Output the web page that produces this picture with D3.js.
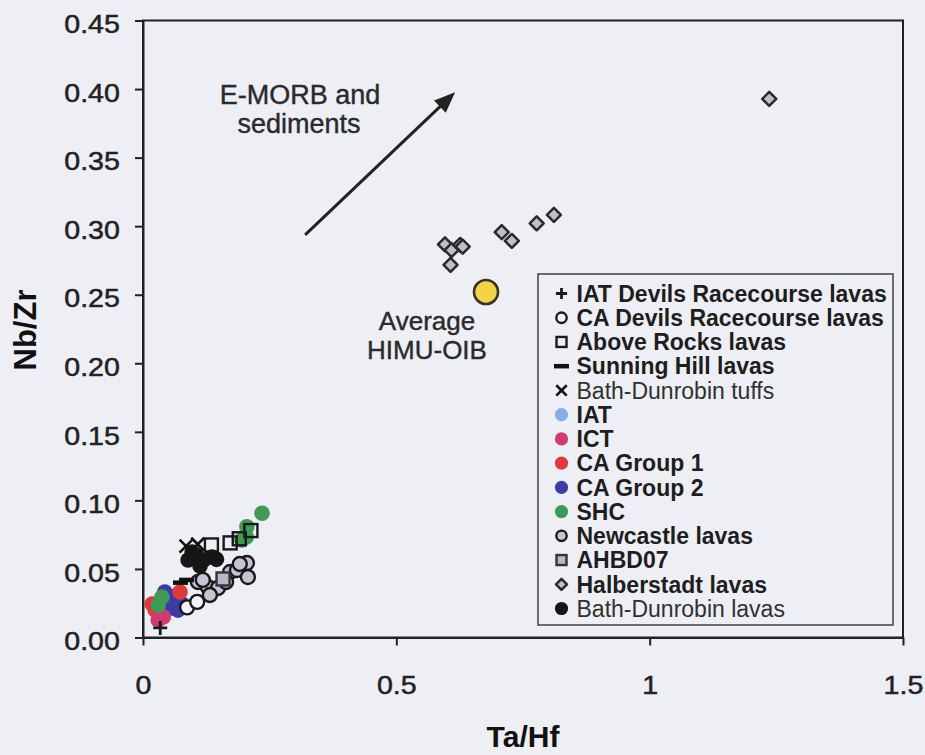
<!DOCTYPE html>
<html>
<head>
<meta charset="utf-8">
<script src="https://cdn.jsdelivr.net/npm/d3@7"></script>
<style>
  html, body { margin: 0; padding: 0; background: #eeeef5; }
  svg { display: block; font-family: "Liberation Sans", Arial, sans-serif; }
</style>
</head>
<body>
<svg id="chart" width="925" height="755"></svg>
<script>
// ---- axis ticks ----
const xTicks = [0, 0.5, 1, 1.5];
const yTicks = [0, 0.05, 0.10, 0.15, 0.20, 0.25, 0.30, 0.35, 0.40, 0.45];

// ---- series: [Ta/Hf, Nb/Zr] ----
const iatDevils   = [[0.034, 0.007]];
const caDevils    = [[0.087, 0.022], [0.107, 0.026]];
const aboveRocks  = [[0.135, 0.0675], [0.172, 0.069], [0.190, 0.072], [0.213, 0.078]];
const sunningHill = [[0.074, 0.040], [0.086, 0.042]];
const bdTuffs     = [[0.085, 0.0667], [0.108, 0.068]];
const iat         = [[0.050, 0.030], [0.060, 0.026]];
const ict         = [[0.030, 0.0128], [0.040, 0.015]];
const caGroup1    = [[0.024, 0.020], [0.073, 0.0332], [0.018, 0.0244]];
const caGroup2    = [[0.049, 0.0274], [0.065, 0.0303], [0.077, 0.0244], [0.057, 0.0215], [0.043, 0.0332], [0.069, 0.020]];
const shc         = [[0.030, 0.0237], [0.0375, 0.0295], [0.195, 0.0711], [0.204, 0.0733], [0.205, 0.0808], [0.235, 0.0906]];
const newcastle   = [[0.1085, 0.0405], [0.128, 0.0368], [0.148, 0.0361], [0.172, 0.0478], [0.1855, 0.0492],
                     [0.205, 0.0543], [0.207, 0.0441], [0.191, 0.0536], [0.132, 0.031], [0.118, 0.042], [0.164, 0.0405]];
const ahbd07      = [[0.158, 0.0427]];
const halberstadt = [[0.596, 0.2868], [0.609, 0.2826], [0.626, 0.2863], [0.631, 0.285], [0.607, 0.2717],
                     [0.708, 0.2956], [0.728, 0.2892], [0.777, 0.3021], [0.811, 0.3082], [1.236, 0.3928]];
const bdLavas     = [[0.089, 0.0565], [0.105, 0.0602], [0.120, 0.0565], [0.136, 0.0587], [0.1125, 0.0521],
                     [0.097, 0.0624], [0.145, 0.057]];

// reference composition and trend arrow
const himuOib    = [[0.677, 0.252]];
const emorbArrow = [[0.320, 0.2936], [0.616, 0.3977]];

// legend entries, in display order
const legendLabels = ["IAT Devils Racecourse lavas", "CA Devils Racecourse lavas", "Above Rocks lavas",
  "Sunning Hill lavas", "Bath-Dunrobin tuffs", "IAT", "ICT", "CA Group 1", "CA Group 2", "SHC",
  "Newcastle lavas", "AHBD07", "Halberstadt lavas", "Bath-Dunrobin lavas"];

const ink = "#222";
const styles = {
  "IAT Devils Racecourse lavas": {shape: "plus",    data: iatDevils,  fill: "none",    stroke: "#1a1a1a"},
  "CA Devils Racecourse lavas":  {shape: "circle",  data: caDevils,   fill: "#f4f4f8", stroke: "#1a1a1a"},
  "Above Rocks lavas":           {shape: "square",  data: aboveRocks, fill: "none",    stroke: "#1a1a1a"},
  "Sunning Hill lavas":          {shape: "dash",    data: sunningHill,fill: "none",    stroke: "#111"},
  "Bath-Dunrobin tuffs":         {shape: "cross",   data: bdTuffs,    fill: "none",    stroke: "#111"},
  "IAT":                         {shape: "dot",     data: iat,        fill: "#86aee6", stroke: "none"},
  "ICT":                         {shape: "dot",     data: ict,        fill: "#d23a72", stroke: "none"},
  "CA Group 1":                  {shape: "dot",     data: caGroup1,   fill: "#e2383a", stroke: "none"},
  "CA Group 2":                  {shape: "dot",     data: caGroup2,   fill: "#3c3ca6", stroke: "none"},
  "SHC":                         {shape: "dot",     data: shc,        fill: "#3f9a55", stroke: "none"},
  "Newcastle lavas":             {shape: "circle",  data: newcastle,  fill: "#c4c4d4", stroke: "#1a1a1a"},
  "AHBD07":                      {shape: "square",  data: ahbd07,     fill: "#b8b8cc", stroke: "#333"},
  "Halberstadt lavas":           {shape: "diamond", data: halberstadt,fill: "#c4bccc", stroke: "#2a2a2a"},
  "Bath-Dunrobin lavas":         {shape: "dot",     data: bdLavas,    fill: "#161616", stroke: "none"}
};

// plotting order (later on top)
const drawOrder = ["Halberstadt lavas", "IAT", "CA Group 2", "CA Group 1", "ICT", "SHC",
  "Newcastle lavas", "CA Devils Racecourse lavas", "AHBD07", "Above Rocks lavas",
  "Bath-Dunrobin lavas", "Bath-Dunrobin tuffs", "Sunning Hill lavas", "IAT Devils Racecourse lavas"];

const svg = d3.select("#chart");
const x = d3.scaleLinear().domain([0, 1.5]).range([143, 903]);
const y = d3.scaleLinear().domain([0, 0.45]).range([637.5, 20.5]);

// ---- marker drawing ----
function marker(g, shape, st, big) {
  const k = big ? 1 : 0.8;
  switch (shape) {
    case "plus":
      g.append("path").attr("d", `M${-7*k},0H${7*k}M0,${-7*k}V${7*k}`)
        .attr("stroke", st.stroke).attr("stroke-width", 2.8).attr("fill", "none");
      break;
    case "cross":
      g.append("path").attr("d", `M${-6.5*k},${-6.5*k}L${6.5*k},${6.5*k}M${-6.5*k},${6.5*k}L${6.5*k},${-6.5*k}`)
        .attr("stroke", st.stroke).attr("stroke-width", 2.6).attr("fill", "none");
      break;
    case "dash":
      g.append("path").attr("d", `M${-7.5},0H${7.5}`)
        .attr("stroke", st.stroke).attr("stroke-width", 4.5).attr("fill", "none");
      break;
    case "circle":
      g.append("circle").attr("r", big ? 7 : 5.2)
        .attr("fill", st.fill).attr("stroke", st.stroke).attr("stroke-width", 2.4);
      break;
    case "dot":
      g.append("circle").attr("r", big ? 7.8 : 6.6).attr("fill", st.fill);
      break;
    case "square": {
      const h = big ? 6.5 : 5;
      g.append("rect").attr("x", -h).attr("y", -h).attr("width", 2*h).attr("height", 2*h)
        .attr("fill", st.fill).attr("stroke", st.stroke).attr("stroke-width", 2.4);
      break;
    }
    case "diamond": {
      const h = big ? 7 : 5.5;
      g.append("path").attr("d", `M0,${-h}L${h},0L0,${h}L${-h},0Z`)
        .attr("fill", st.fill).attr("stroke", st.stroke).attr("stroke-width", 2.5)
        .attr("stroke-linejoin", "round");
      break;
    }
  }
}

// ---- axes ----
const tickFont = g => g.selectAll("text")
  .attr("fill", ink).attr("stroke", ink).attr("stroke-width", 0.5)
  .style("font-size", "26px")
  .attr("transform", "scale(1.1,1)");

const yAxis = svg.append("g").attr("transform", "translate(143,0)")
  .call(d3.axisLeft(y).tickValues(yTicks).tickSize(8).tickSizeOuter(0).tickPadding(13)
    .tickFormat(d3.format(".2f")));
yAxis.selectAll("text").attr("dy", "0.47em");
tickFont(yAxis);

const xAxis = svg.append("g").attr("transform", "translate(0,637.5)")
  .call(d3.axisBottom(x).tickValues(xTicks).tickSize(8).tickSizeOuter(0).tickPadding(30)
    .tickFormat(d3.format("")));
tickFont(xAxis);

[yAxis, xAxis].forEach(a => {
  a.selectAll("line").attr("stroke", ink).attr("stroke-width", 2);
  a.select(".domain").attr("stroke", ink).attr("stroke-width", 2);
});

// plot frame
svg.append("rect")
  .attr("x", x(0)).attr("y", y(0.45))
  .attr("width", x(1.5) - x(0)).attr("height", y(0) - y(0.45))
  .attr("fill", "none").attr("stroke", ink).attr("stroke-width", 2);

// axis titles
svg.append("text")
  .attr("transform", `translate(${(x(0) + x(1.5)) / 2},747)`)
  .attr("text-anchor", "middle").attr("font-weight", "bold")
  .style("font-size", "30px").attr("fill", "#111").text("Ta/Hf");
svg.append("text")
  .attr("transform", `translate(36,${(y(0) + y(0.45)) / 2 + 1}) rotate(-90)`)
  .attr("text-anchor", "middle").attr("font-weight", "bold")
  .style("font-size", "31px").attr("fill", "#111").text("Nb/Zr");

// ---- data points ----
const plot = svg.append("g");
drawOrder.forEach(name => {
  const st = styles[name];
  st.data.forEach(d => {
    const g = plot.append("g").attr("transform", `translate(${x(d[0])},${y(d[1])})`);
    marker(g, st.shape, st, true);
  });
});

// average HIMU-OIB
plot.selectAll("circle.himu").data(himuOib).join("circle")
  .attr("class", "himu")
  .attr("cx", d => x(d[0])).attr("cy", d => y(d[1])).attr("r", 12)
  .attr("fill", "#f0d646").attr("stroke", "#3a3222").attr("stroke-width", 2.6);

const annot = svg.append("g").attr("fill", "#2a2a2a").attr("stroke", "#2a2a2a")
  .attr("stroke-width", 0.4).attr("text-anchor", "middle");
annot.append("text").attr("x", 427).attr("y", 330).style("font-size", "26px").text("Average");
annot.append("text").attr("x", 427).attr("y", 359).style("font-size", "26px").text("HIMU-OIB");

// E-MORB trend arrow
{
  const [p0, p1] = emorbArrow.map(d => [x(d[0]), y(d[1])]);
  const dx = p1[0] - p0[0], dy = p1[1] - p0[1];
  const len = Math.hypot(dx, dy), ux = dx / len, uy = dy / len;
  const headL = 21, headW = 8.5;
  const bx = p1[0] - ux * headL, by = p1[1] - uy * headL;
  svg.append("line")
    .attr("x1", p0[0]).attr("y1", p0[1]).attr("x2", bx + ux * 2).attr("y2", by + uy * 2)
    .attr("stroke", "#222").attr("stroke-width", 3);
  svg.append("path")
    .attr("d", `M${p1[0]},${p1[1]}L${bx - uy * headW},${by + ux * headW}L${bx + uy * headW},${by - ux * headW}Z`)
    .attr("fill", "#222");
}
annot.append("text").attr("x", 300).attr("y", 104).style("font-size", "27px").text("E-MORB and");
annot.append("text").attr("x", 299).attr("y", 133).style("font-size", "27px").text("sediments");

// ---- legend ----
const legend = svg.append("g");
legend.append("rect").attr("x", 538).attr("y", 274).attr("width", 355).attr("height", 351)
  .attr("fill", "none").attr("stroke", "#4a4a4a").attr("stroke-width", 1.6);

const rowY = d3.scalePoint().domain(legendLabels).range([293.5, 608.5]);
legendLabels.forEach(name => {
  const st = styles[name];
  const cy = rowY(name);
  const g = legend.append("g").attr("transform", `translate(561.5,${cy})`);
  marker(g, st.shape, st, false);
  const plain = name.startsWith("Bath-Dunrobin");
  legend.append("text")
    .attr("x", 576.5).attr("y", cy + 8.3)
    .attr("font-weight", plain ? "normal" : "bold")
    .attr("fill", plain ? "#303030" : "#1e1e1e")
    .style("font-size", "23px")
    .text(name);
});
</script>
</body>
</html>
